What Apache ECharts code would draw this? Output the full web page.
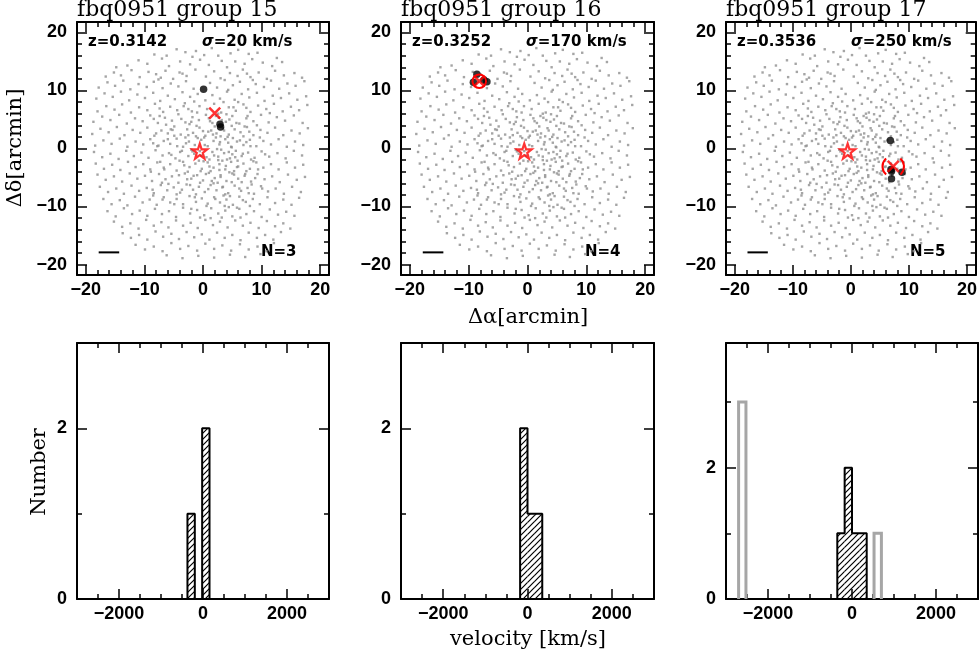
<!DOCTYPE html>
<html><head><meta charset="utf-8">
<script src="https://cdn.jsdelivr.net/npm/echarts@6/dist/echarts.min.js"></script>
<style>html,body{margin:0;padding:0;background:#fff}#c{width:980px;height:653px}</style>
</head><body><div id="c"></div>
<script>
// ---------------- data ----------------
const groupTitles = ['fbq0951 group 15', 'fbq0951 group 16', 'fbq0951 group 17'];
const redshiftLabels = ['z=0.3142', 'z=0.3252', 'z=0.3536'];
const sigmaValues = ['20', '170', '250'];
const countLabels = ['N=3', 'N=4', 'N=5'];

// background galaxies in the field (Δα, Δδ in arcmin), same in all three panels
const backgroundPoints = [
[-8.3,16.2],[-4.5,17.1],[-3.0,16.6],[-1.2,16.8],[1.5,17.3],[2.6,16.0],[4.7,16.4],[6.0,17.0],[7.8,16.3],[-6.2,16.0],[9.3,16.5],[0.2,16.1],
[-12.9,14.3],[-11.0,15.2],[-9.5,14.6],[-7.0,15.5],[-5.8,14.2],[-3.9,15.0],[-2.2,14.5],[-0.5,15.3],[1.0,14.4],[3.2,15.1],[4.1,14.0],[5.5,15.0],[7.1,14.6],[8.4,15.4],[10.2,14.8],[11.8,14.2],[13.5,14.9],[-14.8,14.0],[12.6,15.6],[-1.8,15.8],
[-16.6,12.4],[-15.2,13.1],[-14.0,12.6],[-12.2,13.5],[-10.8,12.3],[-9.3,13.2],[-8.0,12.8],[-7.2,12.2],[-6.4,13.4],[-5.1,12.0],[-4.0,13.1],[-2.8,12.5],[-1.3,13.6],[0.5,12.4],[1.9,13.3],[3.0,12.1],[4.6,13.0],[5.9,12.5],[6.8,13.6],[8.1,12.3],[9.5,13.1],[10.9,12.0],[12.3,13.4],[13.8,12.6],[15.6,13.0],[16.9,12.2],[-3.5,12.9],[7.5,12.9],
[-17.8,10.5],[-16.3,11.4],[-15.0,10.8],[-13.6,11.7],[-12.4,10.2],[-11.0,11.1],[-9.6,10.6],[-8.4,11.5],[-6.9,10.4],[-5.5,11.2],[-4.2,10.7],[-2.9,11.6],[-1.6,10.3],[1.2,11.3],[2.4,10.5],[3.7,11.8],[5.1,10.9],[6.3,11.5],[7.7,10.2],[9.0,11.1],[10.4,10.6],[11.6,11.7],[13.0,10.3],[14.4,11.2],[15.8,10.8],[17.3,11.6],[4.3,10.1],[-7.6,11.9],[8.5,11.8],
[-18.2,8.6],[-16.8,9.5],[-15.4,8.9],[-14.0,9.8],[-12.6,8.3],[-11.2,9.3],[-9.9,8.7],[-8.5,9.6],[-7.3,8.2],[-6.0,9.1],[-4.8,8.5],[-3.5,9.7],[-2.2,8.9],[-0.9,9.4],[0.4,8.3],[1.6,9.2],[2.9,8.6],[4.1,9.8],[5.4,8.4],[6.6,9.4],[7.9,8.8],[9.2,9.6],[10.5,8.2],[11.9,9.1],[13.3,8.7],[14.7,9.5],[16.1,8.4],[17.6,9.0],[-1.5,8.1],[3.5,8.0],[6.0,8.0],
[-18.0,6.4],[-16.5,7.3],[-15.1,6.7],[-13.8,7.6],[-12.3,6.2],[-10.9,7.1],[-9.5,6.6],[-8.2,7.7],[-6.8,6.3],[-5.6,7.2],[-4.4,6.6],[-3.1,7.8],[-1.9,6.4],[-0.6,7.3],[0.7,6.8],[1.9,7.7],[3.1,6.2],[4.4,7.1],[5.6,6.5],[6.9,7.6],[8.1,6.3],[9.4,7.4],[10.8,6.8],[12.1,7.7],[13.6,6.4],[15.0,7.2],[16.4,6.6],[17.8,7.5],[-7.4,6.9],[2.6,6.0],[-2.5,6.8],[7.4,7.0],[11.4,6.1],
[-18.7,4.6],[-17.2,5.5],[-15.8,4.9],[-14.3,5.8],[-13.0,4.3],[-11.6,5.2],[-10.3,4.7],[-9.0,5.7],[-7.7,4.4],[-6.5,5.3],[-5.3,4.8],[-4.2,5.9],[-3.0,4.5],[-1.8,5.4],[-0.7,4.9],[0.5,5.8],[1.6,4.4],[2.7,5.3],[3.9,4.6],[5.0,5.6],[6.2,4.3],[7.4,5.2],[8.6,4.7],[9.9,5.8],[11.2,4.5],[12.6,5.4],[14.0,4.8],[15.5,5.7],[17.0,4.4],[-2.3,4.2],[4.5,5.0],[-8.4,5.1],[1.0,5.2],
[-18.9,2.5],[-17.5,3.4],[-16.1,2.8],[-14.7,3.7],[-13.4,2.3],[-12.0,3.2],[-10.7,2.7],[-9.5,3.6],[-8.3,2.2],[-7.1,3.1],[-6.0,2.6],[-4.9,3.8],[-3.8,2.4],[-2.7,3.3],[-1.7,2.7],[-0.6,3.6],[0.4,2.2],[1.4,3.1],[2.3,2.6],[3.4,3.5],[4.4,2.4],[5.4,3.3],[6.4,2.8],[7.5,3.7],[8.6,2.3],[9.8,3.2],[11.0,2.7],[12.3,3.6],[13.7,2.3],[15.1,3.1],[16.5,2.6],[17.9,3.5],[-5.5,3.3],[0.9,2.9],[3.0,2.1],[6.9,2.1],[-1.2,2.1],[4.9,3.9],[2.0,3.8],
[-18.4,0.5],[-17.0,1.4],[-15.6,0.8],[-14.2,1.7],[-12.9,0.3],[-11.5,1.2],[-10.2,0.7],[-9.0,1.6],[-7.8,0.4],[-6.7,1.3],[-5.6,0.8],[-4.5,1.7],[-3.4,0.3],[-2.4,1.2],[-1.4,0.6],[-0.3,1.5],[0.8,0.4],[1.8,1.3],[2.8,0.7],[3.8,1.6],[4.8,0.3],[5.8,1.2],[6.9,0.6],[8.0,1.5],[9.1,0.4],[10.3,1.3],[11.6,0.7],[12.9,1.6],[14.3,0.3],[15.7,1.2],[17.1,0.6],[-8.5,0.9],[2.2,1.9],[5.1,1.8],[-3.0,1.9],[7.4,1.1],[4.3,1.0],[0.2,1.9],
[-18.6,-0.6],[-17.2,-1.5],[-15.8,-0.9],[-14.4,-1.8],[-13.1,-0.4],[-11.8,-1.3],[-10.5,-0.7],[-9.3,-1.6],[-8.1,-0.3],[-6.9,-1.2],[-5.8,-0.8],[-4.7,-1.7],[-3.6,-0.4],[-2.5,-1.3],[-1.5,-0.9],[0.6,-1.5],[1.6,-0.6],[2.6,-1.4],[3.6,-0.8],[4.6,-1.7],[5.6,-0.4],[6.6,-1.3],[7.7,-0.7],[8.8,-1.6],[10.0,-0.5],[11.3,-1.4],[12.7,-0.8],[14.1,-1.7],[15.5,-0.4],[16.9,-1.2],[1.1,-1.9],[3.1,-0.2],[5.0,-1.0],[-2.0,-0.2],[8.2,-1.9],[4.1,-1.9],[-0.55,-0.45],
[-18.3,-2.6],[-16.9,-3.5],[-15.5,-2.8],[-14.1,-3.7],[-12.8,-2.3],[-11.5,-3.2],[-10.2,-2.7],[-9.0,-3.6],[-7.8,-2.4],[-6.7,-3.3],[-5.6,-2.7],[-4.5,-3.8],[-3.4,-2.3],[-2.3,-3.2],[-1.3,-2.6],[-0.2,-3.5],[0.8,-2.4],[1.8,-3.3],[2.8,-2.7],[3.8,-3.6],[4.8,-2.3],[5.8,-3.2],[6.9,-2.6],[8.0,-3.5],[9.1,-2.4],[10.3,-3.3],[11.6,-2.7],[12.9,-3.6],[14.3,-2.4],[15.7,-3.3],[17.1,-2.8],[-0.7,-2.1],[3.3,-2.1],[5.3,-3.9],[7.4,-3.9],[1.3,-3.9],[-4.0,-2.1],
[-18.0,-4.5],[-16.6,-5.4],[-15.2,-4.8],[-13.8,-5.7],[-12.5,-4.3],[-11.2,-5.2],[-9.9,-4.7],[-8.7,-5.6],[-7.5,-4.4],[-6.4,-5.3],[-5.3,-4.8],[-4.2,-5.9],[-3.1,-4.3],[-2.0,-5.2],[-1.0,-4.6],[0.0,-5.5],[1.0,-4.2],[2.0,-5.1],[3.0,-4.6],[4.0,-5.6],[5.0,-4.3],[6.0,-5.2],[7.1,-4.7],[8.2,-5.7],[9.3,-4.4],[10.5,-5.3],[11.8,-4.8],[13.1,-5.8],[14.5,-4.5],[16.0,-5.4],[17.4,-4.9],[-2.6,-4.0],[2.5,-5.9],[4.5,-4.1],[6.6,-5.8],[-7.0,-5.9],[-0.5,-5.9],
[-17.6,-6.6],[-16.2,-7.5],[-14.8,-6.9],[-13.5,-7.8],[-12.2,-6.4],[-10.9,-7.3],[-9.6,-6.8],[-8.4,-7.7],[-7.2,-6.3],[-6.1,-7.2],[-5.0,-6.7],[-3.9,-7.6],[-2.8,-6.2],[-1.7,-7.1],[-0.7,-6.6],[0.3,-7.5],[1.3,-6.3],[2.3,-7.2],[3.3,-6.7],[4.3,-7.7],[5.4,-6.4],[6.5,-7.3],[7.6,-6.8],[8.7,-7.8],[9.9,-6.5],[11.1,-7.4],[12.4,-6.9],[13.8,-7.8],[15.2,-6.6],[16.7,-7.5],[-4.5,-7.9],[1.8,-6.0],[3.8,-7.9],[-1.2,-7.9],
[-17.0,-8.7],[-15.6,-9.6],[-14.2,-8.9],[-12.9,-9.8],[-11.6,-8.3],[-10.3,-9.3],[-9.1,-8.8],[-7.9,-9.7],[-6.7,-8.4],[-5.6,-9.3],[-4.5,-8.7],[-3.4,-9.6],[-2.3,-8.2],[-1.2,-9.2],[-0.2,-8.6],[0.8,-9.5],[1.9,-8.4],[2.9,-9.3],[4.0,-8.8],[5.1,-9.7],[6.2,-8.3],[7.3,-9.2],[8.5,-8.7],[9.7,-9.6],[11.0,-8.4],[12.3,-9.4],[13.7,-8.8],[15.1,-9.7],[16.4,-8.5],[-8.5,-8.1],[3.5,-8.1],
[-16.3,-10.8],[-14.9,-11.7],[-13.5,-10.3],[-12.1,-11.3],[-10.8,-10.7],[-9.5,-11.6],[-8.2,-10.4],[-7.0,-11.3],[-5.8,-10.8],[-4.6,-11.8],[-3.4,-10.2],[-2.2,-11.2],[-1.0,-10.6],[0.2,-11.5],[1.4,-10.3],[2.6,-11.2],[3.8,-10.7],[5.0,-11.7],[6.2,-10.4],[7.4,-11.3],[8.7,-10.8],[10.0,-11.8],[11.4,-10.5],[12.8,-11.4],[14.2,-10.9],[15.6,-11.6],[4.4,-10.1],
[-15.2,-12.6],[-13.8,-13.5],[-12.4,-12.9],[-11.0,-13.8],[-9.7,-12.3],[-8.4,-13.3],[-7.1,-12.7],[-5.9,-13.6],[-4.6,-12.4],[-3.4,-13.3],[-2.1,-12.8],[-0.9,-13.7],[0.4,-12.3],[1.7,-13.2],[2.9,-12.6],[4.2,-13.6],[5.5,-12.4],[6.8,-13.3],[8.1,-12.8],[9.5,-13.7],[10.9,-12.5],[12.3,-13.4],[13.7,-12.9],[14.9,-13.8],
[-13.7,-14.6],[-12.3,-15.4],[-10.9,-14.9],[-9.5,-15.7],[-8.1,-14.3],[-6.8,-15.2],[-5.4,-14.7],[-4.1,-15.6],[-2.8,-14.4],[-1.5,-15.3],[-0.2,-14.8],[1.1,-15.7],[2.4,-14.5],[3.7,-15.4],[5.0,-14.9],[6.4,-15.8],[7.8,-14.5],[9.2,-15.4],[10.6,-14.9],[12.0,-15.7],[13.3,-14.4],
[-11.5,-16.6],[-9.9,-17.4],[-8.4,-16.9],[-6.9,-17.7],[-5.4,-16.3],[-3.9,-17.3],[-2.5,-16.8],[-1.0,-17.6],[0.4,-16.4],[1.9,-17.3],[3.3,-16.7],[4.8,-17.6],[6.3,-16.5],[7.8,-17.4],[9.3,-16.9],[10.8,-17.7],[12.1,-16.3],
[-6.2,-18.4],[-3.5,-18.9],[-0.8,-18.5],[1.9,-18.8],[4.6,-18.3],[7.2,-18.7],[9.8,-18.2],
[-6.3,4.1],[-4.9,2.2],[-3.7,5.1],[-2.9,0.9],[-1.1,3.9],[0.3,0.6],[1.2,4.7],[2.4,-0.1],[3.6,3.1],[4.9,0.2],[5.7,4.4],[6.8,-0.9],[7.9,2.9],[8.6,-2.2],[-5.4,-1.1],[-3.2,-2.9],[-1.8,-0.5],[0.1,-2.2],[1.9,-1.2],[3.9,-3.0],[4.4,-0.6],[5.9,-2.1],[7.2,-4.4],[8.9,-5.1],[-6.6,-3.6],[-4.1,-4.6],[-2.2,-6.3],[-0.4,-3.9],[1.5,-5.6],[2.8,-3.7],[3.4,-6.6],[4.9,-5.8],[6.2,-6.9],[7.8,-7.7],[-5.9,-6.1],[-3.6,-7.1],[-1.4,-8.4],[0.9,-7.0],[2.1,-8.7],[4.6,-8.2],[6.8,-8.9],[8.3,-6.2],[-6.9,-8.8],[-4.9,-9.6],[-2.7,-5.3],[0.5,-4.4],[2.6,-2.0],[5.3,-4.5],[-0.9,1.8],[1.7,2.4],[3.2,4.9],[4.2,2.0],[6.3,1.4],[7.1,3.8],[-2.0,4.6],[-4.4,0.4],[-6.0,1.6],[-0.3,-1.2],[2.9,1.1],[5.5,-1.5],[8.1,0.4],[9.4,-3.6],[9.7,1.9],[-7.3,-2.3],[-1.6,-4.7],[3.0,-4.9],[6.0,-3.1],[1.1,-3.1],[-3.9,-0.6],[-5.2,3.2],[-2.5,2.3],[0.0,3.0],[2.2,5.6],[4.0,5.9],[-1.0,6.2],[-3.3,7.3],[5.2,7.1],[7.6,5.6],[-8.0,2.6],[-7.4,5.6],[9.2,4.0],[10.6,-1.0],[10.1,-6.9],[-8.9,-4.0],[-8.6,-7.1],[-7.6,0.5],[3.7,-9.9],[0.6,-9.9],[-2.0,-10.4],[5.8,-10.2],[8.0,-9.9],[1.3,-12.0],[-0.5,-11.9],[3.2,-11.9],[6.4,-11.9]
];

// group members and markers
const members15 = [[0.1,10.2],[2.9,4.2],[3.0,3.7]];
const members16 = [[-9.2,11.4],[-8.6,12.8],[-7.4,11.8],[-6.9,11.5]];
const members17 = [[6.8,1.4],[6.9,-3.6],[7.0,-3.9],[8.8,-4.1],[7.0,-5.2]];
const groupCenters = [[2.0,6.1],[-8.2,11.6],[7.3,-3.1]];
const circleRadii = [0, 1.15, 1.85];
const quasarPosition = [-0.55,-0.45];
const scaleBar = [[-17.8,-17.9],[-14.3,-17.9]];

// sky axes ticks
const skyTicksMajor = [-20,-10,0,10,20];
const skyTicksMinor = [-20,-18,-16,-14,-12,-10,-8,-6,-4,-2,0,2,4,6,8,10,12,14,16,18,20];

// velocity histograms: bin edges (km/s) and counts
const histEdges15 = [-370,-195,-20,155];
const histCounts15 = [1,0,2];
const histEdges16 = [-175,0,175,350];
const histCounts16 = [2,1,1];
const histEdges17 = [-350,-175,0,175,350];
const histCounts17 = [1,2,1,1];
const otherBins17 = [[-2700,-2525,3],[525,700,1]];
const histYMax = [3,3,3.9];
const velTicksMajor = [-2000,0,2000];
const velTicksMinor = [-2500,-1500,-1000,-500,500,1000,1500,2500];
const countTicksMajor = [0,2];
const countTicksMinor = [1,3];

// ---------------- layout / style ----------------
const LEFTS = [77,401,726], WIDTHS = [252,253,252];
const TOP_T = 22, TOP_H = 253, BOT_T = 343, BOT_H = 256;
const SERIF = 'DejaVu Serif';

function makeHatch(){
  const s = 6, cv = document.createElement('canvas');
  cv.width = s; cv.height = s;
  const g = cv.getContext('2d');
  g.strokeStyle = '#000'; g.lineWidth = 1.2;
  g.beginPath();
  g.moveTo(-1, s+1); g.lineTo(s+1, -1);
  g.moveTo(-1, 1); g.lineTo(1, -1);
  g.moveTo(s-1, s+1); g.lineTo(s+1, s-1);
  g.stroke();
  return cv;
}
const hatch = {image: makeHatch(), repeat: 'repeat'};

const grids = [];
for (let i=0;i<3;i++) grids.push({left:LEFTS[i], top:TOP_T, width:WIDTHS[i], height:TOP_H});
for (let i=0;i<3;i++) grids.push({left:LEFTS[i], top:BOT_T, width:WIDTHS[i], height:BOT_H});

const xAxes = [], yAxes = [];
const fmt = v => String(v).replace('-', '\u2212');
function addAxes(list, gi, positions, min, max, major, minor, labelMargin){
  const idx = list.length;
  const common = {type:'value', gridIndex:gi, min, max, splitLine:{show:false}, splitArea:{show:false}};
  positions.forEach((pos,k) => {
    list.push(Object.assign({}, common, {
      position: pos,
      axisLine: {show:true, onZero:false, lineStyle:{color:'#000', width:2}},
      axisTick: {show:true, inside:true, length:10, customValues:major, lineStyle:{color:'#000', width:1.5}},
      axisLabel: k===0 ? {show:true, customValues:major, margin:labelMargin, color:'#000',
        fontWeight:'bold', fontSize:18, formatter:fmt} : {show:false}
    }));
    list.push(Object.assign({}, common, {
      position: pos,
      axisLine: {show:false, onZero:false},
      axisTick: {show:true, inside:true, length:5, customValues:minor, lineStyle:{color:'#000', width:1.5}},
      axisLabel: {show:false}
    }));
  });
  return idx;
}

const xIdx = [], yIdx = [];
for (let i=0;i<3;i++){
  xIdx.push(addAxes(xAxes, i, ['bottom','top'], -21.5, 21.5, skyTicksMajor, skyTicksMinor, 6));
  yIdx.push(addAxes(yAxes, i, ['left','right'], -21.8, 21.8, skyTicksMajor, skyTicksMinor, 10));
}
for (let i=0;i<3;i++){
  xIdx.push(addAxes(xAxes, 3+i, ['bottom','top'], -3000, 3000, velTicksMajor, velTicksMinor, 6));
  yIdx.push(addAxes(yAxes, 3+i, ['left','right'], 0, histYMax[i], countTicksMajor, countTicksMinor, 10));
}

const series = [];
const membersAll = [members15, members16, members17];
const starPath = 'path://M50,2 L61.8,36.2 L97.6,36.5 L69,58.1 L79.4,92.4 L50,71.8 L20.6,92.4 L31,58.1 L2.4,36.5 L38.2,36.2 Z';
for (let i=0;i<3;i++){
  const ax = {xAxisIndex:xIdx[i], yAxisIndex:yIdx[i]};
  series.push(Object.assign({type:'scatter', data:backgroundPoints, symbol:'rect', symbolSize:2.4,
    itemStyle:{color:'#8e8e8e'}, silent:true, z:2}, ax));
  series.push(Object.assign({type:'line', data:scaleBar, symbol:'none', lineStyle:{color:'#000', width:2}, z:3}, ax));
  series.push(Object.assign({type:'scatter', data:membersAll[i], symbol:'circle', symbolSize:7.5,
    itemStyle:{color:'#000'}, z:4}, ax));
  series.push(Object.assign({type:'scatter', data:[quasarPosition], symbol:starPath, symbolSize:15,
    itemStyle:{color:'rgba(0,0,0,0)', borderColor:'#ff0000', borderWidth:2.2}, z:5}, ax));
  if (circleRadii[i] > 0){
    const arcs = (i === 2);
    series.push(Object.assign({type:'custom', data:[[groupCenters[i][0], groupCenters[i][1], circleRadii[i]]], z:6,
      renderItem: function(params, api){
        const c = api.coord([api.value(0), api.value(1)]);
        const r = api.size([api.value(2), 0])[0];
        const st = {fill:'none', stroke:'#ff0000', lineWidth:2};
        if (!arcs) return {type:'circle', shape:{cx:c[0], cy:c[1], r:r}, style:st};
        return {type:'group', children:[
          {type:'arc', shape:{cx:c[0], cy:c[1], r:r, startAngle:-0.85, endAngle:0.85, clockwise:true}, style:st},
          {type:'arc', shape:{cx:c[0], cy:c[1], r:r, startAngle:Math.PI-0.85, endAngle:Math.PI+0.85, clockwise:true}, style:st}
        ]};
      }}, ax));
  }
  series.push(Object.assign({type:'scatter', data:[groupCenters[i]], symbol:'path://M0,0 L10,10 M10,0 L0,10', symbolSize:11,
    itemStyle:{color:'rgba(0,0,0,0)', borderColor:'#ff0000', borderWidth:2.5}, z:7}, ax));
}

const edgesAll = [histEdges15, histEdges16, histEdges17];
const countsAll = [histCounts15, histCounts16, histCounts17];
for (let i=0;i<3;i++){
  const ax = {xAxisIndex:xIdx[3+i], yAxisIndex:yIdx[3+i]};
  const e = edgesAll[i], c = countsAll[i];
  const bins = [];
  for (let k=0;k<c.length;k++) if (c[k] > 0) bins.push([e[k], e[k+1], c[k]]);
  series.push(Object.assign({type:'custom', data:bins, z:3,
    renderItem: function(params, api){
      const p0 = api.coord([api.value(0), 0]);
      const p1 = api.coord([api.value(1), api.value(2)]);
      return {type:'rect', shape:{x:p0[0], y:p1[1], width:p1[0]-p0[0], height:p0[1]-p1[1]},
        style:{fill:hatch, stroke:null}};
    }}, ax));
  const outline = [[e[0], 0]];
  for (let k=0;k<c.length;k++){ outline.push([e[k], c[k]]); outline.push([e[k+1], c[k]]); }
  outline.push([e[e.length-1], 0]);
  series.push(Object.assign({type:'line', data:outline, symbol:'none', lineStyle:{color:'#000', width:2}, z:4}, ax));
  if (i === 2){
    series.push(Object.assign({type:'custom', data:otherBins17, z:4,
      renderItem: function(params, api){
        const a = api.coord([api.value(0), 0]);
        const b = api.coord([api.value(1), api.value(2)]);
        return {type:'polyline', shape:{points:[[a[0],a[1]],[a[0],b[1]],[b[0],b[1]],[b[0],a[1]]]},
          style:{fill:'none', stroke:'#a6a6a6', lineWidth:3}};
      }}, ax));
  }
}

// texts
const graphic = [];
const annFont = 'bold 15px "DejaVu Sans"';
for (let i=0;i<3;i++){
  const L = LEFTS[i];
  graphic.push({type:'text', x:L, y:10, style:{text:groupTitles[i], font:'22px "' + SERIF + '"', fill:'#000', textAlign:'left', textVerticalAlign:'middle'}});
  graphic.push({type:'text', x:L+11, y:TOP_T+20, style:{text:redshiftLabels[i], font:annFont, fill:'#000', textAlign:'left', textVerticalAlign:'middle'}});
  graphic.push({type:'text', x:L+125, y:TOP_T+20, style:{
    text:'{g|σ}{t|=' + sigmaValues[i] + ' km/s}', fill:'#000', textAlign:'left', textVerticalAlign:'middle',
    rich:{g:{font:'italic bold 15px "DejaVu Sans"', fill:'#000'}, t:{font:annFont, fill:'#000'}}}});
  graphic.push({type:'text', x:L+184, y:TOP_T+230, style:{text:countLabels[i], font:annFont, fill:'#000', textAlign:'left', textVerticalAlign:'middle'}});
}
const axisNameFont = '21px "' + SERIF + '"';
graphic.push({type:'text', x:16, y:148, rotation:Math.PI/2, style:{text:'Δδ[arcmin]', font:axisNameFont, fill:'#000', textAlign:'center', textVerticalAlign:'middle'}});
graphic.push({type:'text', x:528, y:318, style:{text:'Δα[arcmin]', font:axisNameFont, fill:'#000', textAlign:'center', textVerticalAlign:'middle'}});
graphic.push({type:'text', x:40, y:472, rotation:Math.PI/2, style:{text:'Number', font:axisNameFont, fill:'#000', textAlign:'center', textVerticalAlign:'middle'}});
graphic.push({type:'text', x:528, y:640, style:{text:'velocity [km/s]', font:axisNameFont, fill:'#000', textAlign:'center', textVerticalAlign:'middle'}});

const chart = echarts.init(document.getElementById('c'), null, {renderer:'canvas'});
chart.setOption({
  animation:false,
  backgroundColor:'#fff',
  grid: grids,
  xAxis: xAxes,
  yAxis: yAxes,
  series: series,
  graphic: graphic
});
</script>
</body></html>
